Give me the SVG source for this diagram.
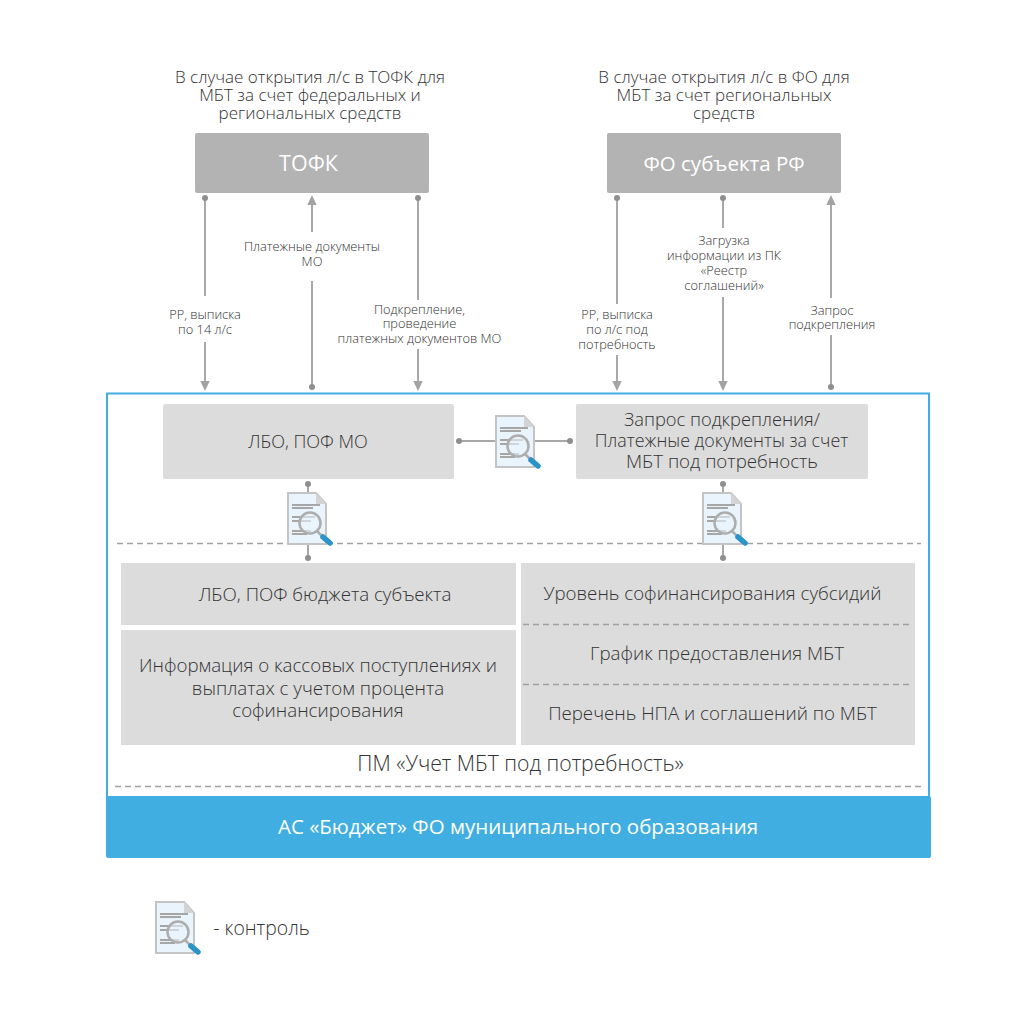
<svg xmlns="http://www.w3.org/2000/svg" xmlns:xlink="http://www.w3.org/1999/xlink" width="1030" height="1021" viewBox="0 0 1030 1021">
<style>
text{font-family:"Open Sans","Noto Sans",sans-serif;text-anchor:middle;fill:#555}
.h{font-size:17px;font-weight:300;fill:#333}
.s{font-size:12.800px;font-weight:300;fill:#333}
.b{font-size:18.700px;font-weight:300;fill:#333}
.l{font-size:20.500px}
.w{fill:#fff;font-weight:400}
.g{fill:#dcdcdc}
.c{stroke:#a8a8a8;stroke-width:2;fill:none}
.d{fill:#8f8f8f}
.a{fill:#a3a3a3}
.da{stroke:#a0a0a0;stroke-width:1.300;stroke-dasharray:6 4;fill:none}
</style>
<defs>
<symbol id="ic" viewBox="0 0 46 54" width="46" height="54" overflow="visible">
<path d="M1 1H29L39 12V52H1Z" fill="#e9f4fc" stroke="#c4c4c4" stroke-width="2"/>
<path d="M29 1L39 12H29Z" fill="#d4d4d4"/>
<path d="M5 13H33M5 16H26" stroke="#a6a6a6" stroke-width="2"/>
<path d="M5 25H28M5 29H24M5 39H24M5 42H20" stroke="#a6a6a6" stroke-width="2"/>
<circle cx="23" cy="31" r="10.500" fill="#e9f4fc" fill-opacity=".6" stroke="#adadad" stroke-width="2.500"/>
<path d="M30 39L35 44" stroke="#adadad" stroke-width="2.500"/>
<path d="M36 45L43 51" stroke="#2b93c6" stroke-width="5.500" stroke-linecap="round"/>
</symbol>
</defs>
<rect width="1030" height="1021" fill="#fff"/>

<g id="notes">
<text class="h" x="310" y="83">В случае открытия л/с в ТОФК для</text>
<text class="h" x="310" y="101">МБТ за счет федеральных и</text>
<text class="h" x="310" y="119">региональных средств</text>
<text class="h" x="724" y="83">В случае открытия л/с в ФО для</text>
<text class="h" x="724" y="101">МБТ за счет региональных</text>
<text class="h" x="724" y="119">средств</text>
</g>

<g id="outer"><rect x="107" y="393.500" width="822" height="410" fill="#fff" stroke="#41aee1" stroke-width="2"/></g>

<g id="node-tofk"><rect x="195" y="133" width="234" height="60" rx="2" fill="#b3b3b3"/><text class="l w" x="308.500" y="171" style="font-size:21.500px">ТОФК</text></g>
<g id="node-fo"><rect x="607" y="133" width="234" height="60" rx="2" fill="#b3b3b3"/><text class="l w" x="724" y="171">ФО субъекта РФ</text></g>

<g id="connectors">
<path class="c" d="M205 198V296M205 342V382"/><circle class="d" cx="205" cy="198" r="3"/><path class="a" d="M200.300 381H209.700L205 391Z"/>
<path class="c" d="M312 204V232M312 281V387"/><circle class="d" cx="312" cy="387" r="3"/><path class="a" d="M307.300 205H316.700L312 195Z"/>
<path class="c" d="M418 198V300M418 349V382"/><circle class="d" cx="418" cy="198" r="3"/><path class="a" d="M413.300 381H422.700L418 391Z"/>
<path class="c" d="M617 198V304M617 355V382"/><circle class="d" cx="617" cy="198" r="3"/><path class="a" d="M612.300 381H621.700L617 391Z"/>
<path class="c" d="M723 198V228M723 297V382"/><circle class="d" cx="723" cy="198" r="3"/><path class="a" d="M718.300 381H727.700L723 391Z"/>
<path class="c" d="M831 204V298M831 335V387"/><circle class="d" cx="831" cy="387" r="3"/><path class="a" d="M826.300 205H835.700L831 195Z"/>
<path class="c" d="M459 441H570"/><circle class="d" cx="459" cy="441" r="3"/><circle class="d" cx="570" cy="441" r="3"/>
<path class="c" d="M308 484V558"/><circle class="d" cx="308" cy="484" r="3"/><circle class="d" cx="308" cy="558" r="3"/>
<path class="c" d="M723 484V558"/><circle class="d" cx="723" cy="484" r="3"/><circle class="d" cx="723" cy="558" r="3"/>
</g>

<g id="labels">
<text class="s" x="205" y="319">РР, выписка</text><text class="s" x="205" y="334">по 14 л/с</text>
<text class="s" x="312" y="251">Платежные документы</text><text class="s" x="312" y="266">МО</text>
<text class="s" x="419.500" y="314">Подкрепление,</text><text class="s" x="419.500" y="328">проведение</text><text class="s" x="419.500" y="343">платежных документов МО</text>
<text class="s" x="617" y="319">РР, выписка</text><text class="s" x="617" y="334">по л/с под</text><text class="s" x="617" y="349">потребность</text>
<text class="s" x="724" y="245">Загрузка</text><text class="s" x="724" y="260">информации из ПК</text><text class="s" x="724" y="275">«Реестр</text><text class="s" x="724" y="290">соглашений»</text>
<text class="s" x="832" y="315">Запрос</text><text class="s" x="832" y="329">подкрепления</text>
</g>

<g id="dashes">
<path class="da" d="M117 543.500H921"/>
<path class="da" d="M115 786.500H921"/>
</g>

<g id="node-lbo-mo"><rect x="163" y="404" width="291" height="75" rx="2" class="g"/><text class="b" x="308" y="448" style="font-size:18px">ЛБО, ПОФ МО</text></g>
<g id="node-request"><rect x="576" y="404" width="292" height="75" rx="2" class="g"/><text class="b" x="722" y="426" style="font-size:18.300px">Запрос подкрепления/</text><text class="b" x="721.500" y="447" style="font-size:17.850px">Платежные документы за счет</text><text class="b" x="722" y="468">МБТ под потребность</text></g>

<use xlink:href="#ic" href="#ic" x="495" y="415"/>
<use xlink:href="#ic" href="#ic" x="287" y="492"/>
<use xlink:href="#ic" href="#ic" x="702" y="492"/>

<g id="node-lbo-sub"><rect x="121" y="563" width="395" height="62" class="g"/><text class="b" x="325" y="601">ЛБО, ПОФ бюджета субъекта</text></g>
<g id="node-info"><rect x="121" y="630" width="395" height="115" class="g"/><text class="b" x="318" y="672">Информация о кассовых поступлениях и</text><text class="b" x="318" y="695">выплатах с учетом процента</text><text class="b" x="318" y="717">софинансирования</text></g>
<g id="node-levels"><rect x="521" y="563" width="394" height="182" class="g"/>
<path class="da" d="M523 624.500H913M523 684.500H913"/>
<text class="b" x="712.500" y="600">Уровень софинансирования субсидий</text>
<text class="b" x="717" y="660">График предоставления МБТ</text>
<text class="b" x="712.500" y="720">Перечень НПА и соглашений по МБТ</text></g>

<text class="b" x="520.500" y="771" id="pm" style="font-size:21.200px">ПМ «Учет МБТ под потребность»</text>
<g id="node-as"><rect x="106" y="796" width="825" height="62" rx="2" fill="#41aee1"/><text class="l w" x="518" y="834">АС «Бюджет» ФО муниципального образования</text></g>

<g id="legend"><use xlink:href="#ic" href="#ic" x="155" y="901"/><text class="b" x="261.500" y="935" style="font-size:19.400px">- контроль</text></g>
</svg>
